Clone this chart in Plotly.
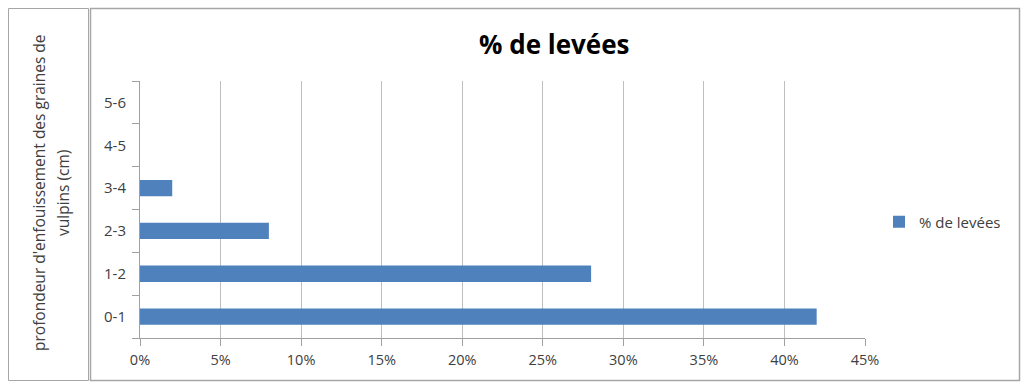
import plotly.graph_objects as go

categories = ["0-1", "1-2", "2-3", "3-4", "4-5", "5-6"]
values = [0.42, 0.28, 0.08, 0.02, 0.0, 0.0]
x_ticks = [0, 0.05, 0.10, 0.15, 0.20, 0.25, 0.30, 0.35, 0.40, 0.45]
x_tick_labels = ["0%", "5%", "10%", "15%", "20%", "25%", "30%", "35%", "40%", "45%"]
series_name = "% de levées"
title_text = "% de levées"
y_title_lines = ["profondeur d'enfouissement des graines de", "vulpins (cm)"]

W, H = 1024, 388
L, R, T, B = 140, 865, 81, 338  # plot area pixels


def px(x):
    return (x - L) / (R - L)


def py(y):
    return (B - y) / (B - T)


FONT = "'Open Sans', sans-serif"

fig = go.Figure()
fig.add_trace(go.Bar(
    y=categories, x=values, orientation="h", name=series_name,
    marker=dict(color="#4f81bd", line=dict(width=0)),
    showlegend=True,
))

fig.update_layout(
    width=W, height=H,
    margin=dict(l=L, r=W - R, t=T, b=H - B, pad=0),
    paper_bgcolor="white", plot_bgcolor="white",
    bargap=0.62,
    font=dict(family=FONT, size=14, color="#404040"),
    xaxis=dict(
        range=[0, 0.45], tickvals=x_ticks, ticktext=x_tick_labels,
        showgrid=True, gridcolor="#bfbfbf", gridwidth=1,
        showline=True, linecolor="#a0a0a0", linewidth=1,
        ticks="outside", ticklen=7, tickcolor="#a0a0a0",
        zeroline=False, fixedrange=True,
        tickfont=dict(size=14.5, color="#404040"),
        ticklabelstandoff=2,
    ),
    yaxis=dict(
        categoryorder="array", categoryarray=categories,
        showline=True, linecolor="#a0a0a0", linewidth=1,
        ticks="outside", ticklen=7, tickcolor="#a0a0a0",
        tickson="boundaries", showgrid=False, zeroline=False,
        tickfont=dict(size=15, color="#404040"),
        ticklabelstandoff=10,
    ),
    legend=dict(
        x=px(879), y=py(222), xanchor="left", yanchor="middle",
        font=dict(size=15, color="#404040"), bgcolor="rgba(0,0,0,0)",
        itemwidth=30,
    ),
    showlegend=True,
)

# outer boxes
fig.add_shape(type="rect", xref="paper", yref="paper",
              x0=px(8.5), x1=px(88.5), y0=py(380.5), y1=py(8.5),
              line=dict(color="#a6a6a6", width=1), fillcolor="rgba(0,0,0,0)", layer="below")
fig.add_shape(type="rect", xref="paper", yref="paper",
              x0=px(90.5), x1=px(1019.5), y0=py(380.5), y1=py(8.5),
              line=dict(color="#a6a6a6", width=1.5), fillcolor="rgba(0,0,0,0)", layer="below")

# title
fig.add_annotation(text="<b>" + title_text + "</b>", xref="paper", yref="paper",
                   x=px(554), y=py(44), xanchor="center", yanchor="middle",
                   showarrow=False, font=dict(size=26, color="#000000", family=FONT))

# y title (two lines)
for line_text, xc in zip(y_title_lines, [39, 63]):
    fig.add_annotation(text=line_text, xref="paper", yref="paper",
                       x=px(xc), y=py(193), xanchor="center", yanchor="middle",
                       textangle=-90, showarrow=False,
                       font=dict(size=15.5, color="#404040", family=FONT))

fig.write_html("out.html")
